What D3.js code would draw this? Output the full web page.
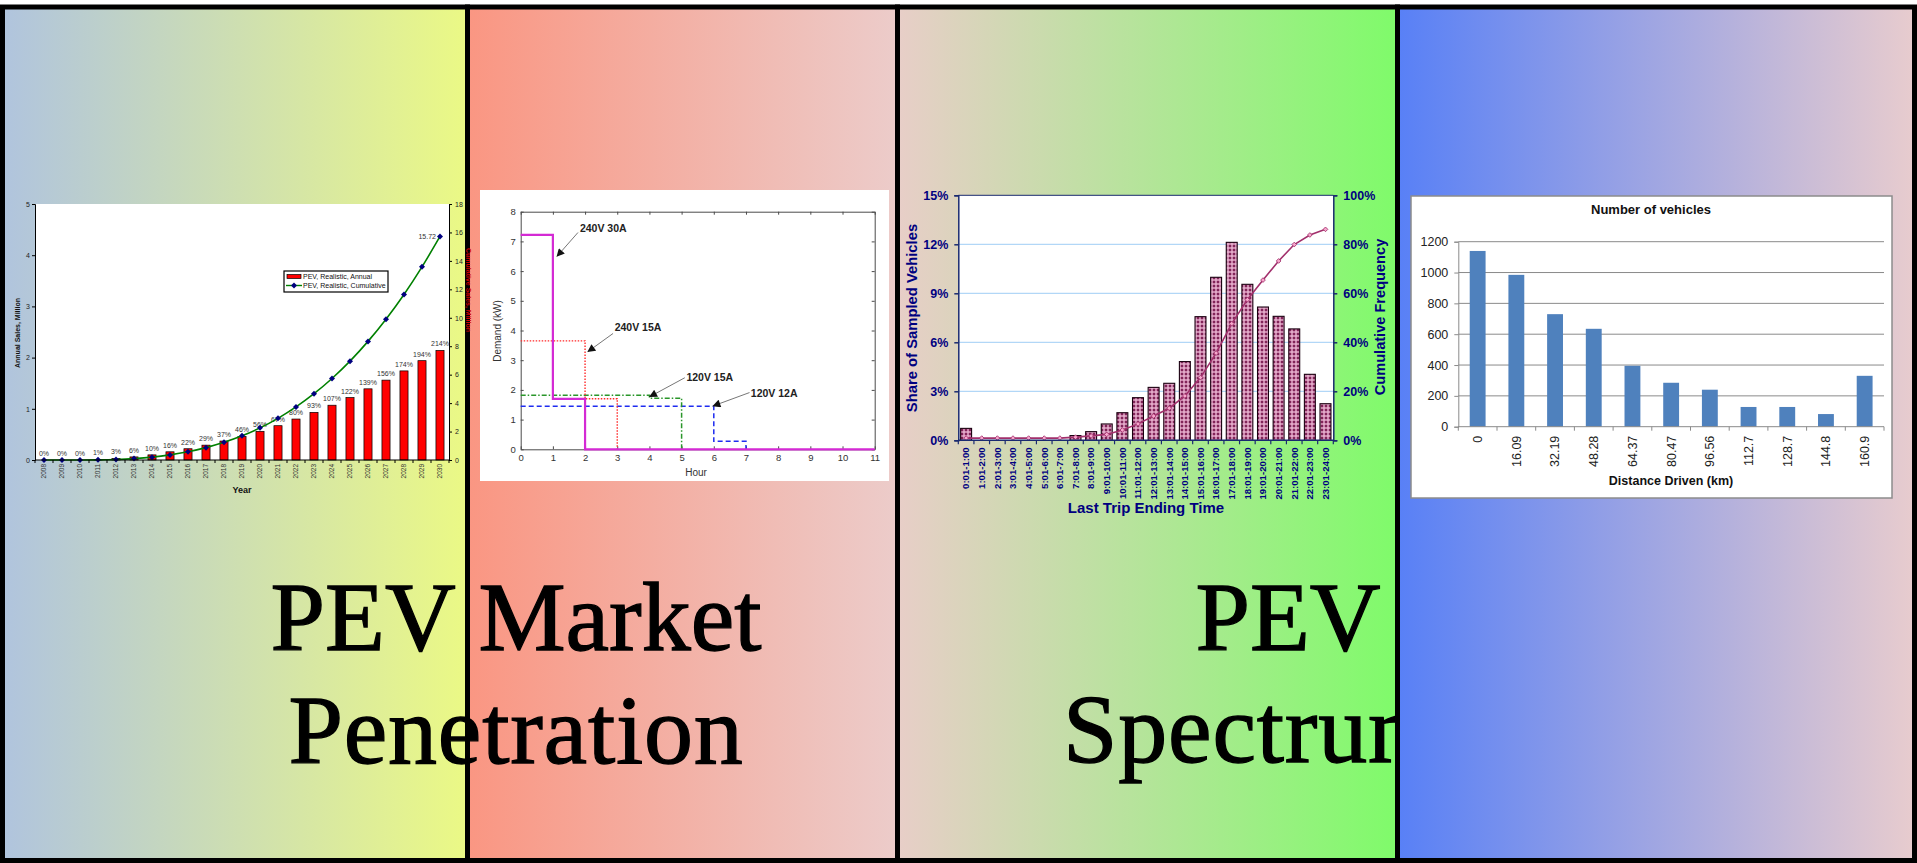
<!DOCTYPE html>
<html>
<head>
<meta charset="utf-8">
<script src="https://cdn.jsdelivr.net/npm/d3@7/dist/d3.min.js"></script>
<style>
html,body{margin:0;padding:0;background:#fff;overflow:hidden}
svg{display:block}
</style>
</head>
<body>
<svg id="board" width="1917" height="863"></svg>
<script>
// ---------- PEV sales outlook (millions) ----------
const salesYears = ["2008","2009","2010","2011","2012","2013","2014","2015","2016","2017","2018","2019",
                    "2020","2021","2022","2023","2024","2025","2026","2027","2028","2029","2030"];
const annualPct = [0,0,0,1,3,6,10,16,22,29,37,46,56,67,80,93,107,122,139,156,174,194,214];
const cumulativeMillions = [0,0,0,0.01,0.04,0.10,0.20,0.36,0.58,0.87,1.24,1.70,2.26,2.93,3.73,
                            4.66,5.73,6.95,8.34,9.90,11.64,13.58,15.72];
const annualTicks = [0,1,2,3,4,5];
const cumulativeTicks = [0,2,4,6,8,10,12,14,16,18];
const salesLegend = ["PEV, Realistic, Annual","PEV, Realistic, Cumulative"];

// ---------- charging demand profiles [hour, kW] ----------
const hourTicks = [0,1,2,3,4,5,6,7,8,9,10,11];
const demandTicks = [0,1,2,3,4,5,6,7,8];
const profile240V30A = [[0,7.22],[1,7.22],[1,1.7],[2,1.7],[2,0],[11,0]];
const profile240V15A = [[0,3.65],[2,3.65],[2,1.7],[3,1.7],[3,0]];
const profile120V15A = [[0,1.82],[4,1.82],[4,1.72],[5,1.72],[5,0]];
const profile120V12A = [[0,1.45],[6,1.45],[6,0.27],[7,0.27],[7,0]];
const profileLabels = ["240V 30A","240V 15A","120V 15A","120V 12A"];

// ---------- last trip ending time ----------
const tripTimes = ["0:01-1:00","1:01-2:00","2:01-3:00","3:01-4:00","4:01-5:00","5:01-6:00",
                   "6:01-7:00","7:01-8:00","8:01-9:00","9:01-10:00","10:01-11:00","11:01-12:00",
                   "12:01-13:00","13:01-14:00","14:01-15:00","15:01-16:00","16:01-17:00","17:01-18:00",
                   "18:01-19:00","19:01-20:00","20:01-21:00","21:01-22:00","22:01-23:00","23:01-24:00"];
const tripShare = [0.73,0,0,0,0,0,0,0.29,0.53,1.0,1.69,2.61,3.24,3.49,4.82,7.57,9.98,12.12,
                   9.55,8.16,7.59,6.82,4.04,2.24];
const tripCumulative = [0.9,0.9,0.9,0.9,0.9,0.9,0.9,1.3,1.8,2.4,4.2,6.7,9.9,13.1,18.1,25.6,
                        35.6,47.6,57.4,65.4,73.2,79.9,83.8,86.1];
const shareTicks = [0,3,6,9,12,15];
const cumShareTicks = [0,20,40,60,80,100];

// ---------- daily distance driven ----------
const distanceBins = ["0","16.09","32.19","48.28","64.37","80.47","96.56","112.7","128.7","144.8","160.9"];
const vehicleCounts = [1140,985,730,635,395,285,240,128,128,82,330];
const countTicks = [0,200,400,600,800,1000,1200];

const titleLines = [["PEV Market","Penetration"],["PEV","Spectrum"]];

// =====================================================================
const svg = d3.select("#board");
const defs = svg.append("defs");
const SANS = "'Liberation Sans', Arial, sans-serif";
const plain = d3.format("d");

function hGrad(id, c0, c1) {
  const g = defs.append("linearGradient").attr("id", id)
    .attr("x1", "0").attr("x2", "1").attr("y1", "0").attr("y2", "0");
  g.append("stop").attr("offset", "0").attr("stop-color", c0);
  g.append("stop").attr("offset", "1").attr("stop-color", c1);
}
hGrad("bg1", "#b0c4de", "#ebf985");
hGrad("bg2", "#fa9682", "#ecccca");
hGrad("bg3", "#e8cec8", "#7ffb6a");
hGrad("bg4", "#5880f6", "#e8ccce");

// dotted fill for the trip-time bars
const pat = defs.append("pattern").attr("id", "dotfill")
  .attr("width", 4).attr("height", 4).attr("patternUnits", "userSpaceOnUse");
pat.append("rect").attr("width", 4).attr("height", 4).attr("fill", "#e2a8c8");
pat.append("rect").attr("x", 1).attr("y", 1).attr("width", 2).attr("height", 2).attr("fill", "#822459");
pat.append("rect").attr("x", 0.5).attr("y", 1.5).attr("width", 3).attr("height", 1).attr("fill", "#822459");
pat.append("rect").attr("x", 1.5).attr("y", 0.5).attr("width", 1).attr("height", 3).attr("fill", "#822459");

// arrowhead for the demand annotations
defs.append("marker").attr("id", "arrowHead")
  .attr("viewBox", "0 0 10 10").attr("refX", 9).attr("refY", 5)
  .attr("markerWidth", 9).attr("markerHeight", 8).attr("markerUnits", "userSpaceOnUse")
  .attr("orient", "auto")
  .append("path").attr("d", "M0,0 L10,5 L0,10 Z").attr("fill", "#111");

function panel(x0, x1, fill) {
  svg.append("rect").attr("x", x0).attr("y", 7).attr("width", x1 - x0).attr("height", 853.5)
    .attr("fill", fill).attr("stroke", "#000").attr("stroke-width", 5);
}
panel(2.5, 467.5, "url(#bg1)");
panel(467.5, 897.5, "url(#bg2)");
panel(897.5, 1397.5, "url(#bg3)");

// =====================================================================
// Chart 1: annual and cumulative PEV sales
const c1 = {left: 35, right: 449, top: 204, bottom: 460};
const g1 = svg.append("g").attr("font-family", SANS);
const x1 = d3.scaleBand().domain(salesYears).range([c1.left, c1.right]).paddingInner(0.55).paddingOuter(0.275);
const yL1 = d3.scaleLinear().domain([0, 5]).range([c1.bottom, c1.top]);
const yR1 = d3.scaleLinear().domain([0, 18]).range([c1.bottom, c1.top]);
const bw1 = x1.bandwidth();

g1.append("rect").attr("x", c1.left).attr("y", c1.top)
  .attr("width", c1.right - c1.left).attr("height", c1.bottom - c1.top).attr("fill", "#fff");

g1.append("text").attr("transform", `translate(466,290) rotate(90)`)
  .attr("text-anchor", "middle").attr("font-size", 7).attr("font-weight", "bold")
  .attr("fill", "#d00000").text("Cumulative Sales, Million");

g1.selectAll("rect.bar").data(salesYears).join("rect").attr("class", "bar")
  .attr("x", d => x1(d))
  .attr("y", (d, i) => yL1(annualPct[i] / 100))
  .attr("width", bw1)
  .attr("height", (d, i) => c1.bottom - yL1(annualPct[i] / 100))
  .attr("fill", "#ff0000").attr("stroke", "#000").attr("stroke-width", 0.7);

g1.selectAll("text.pct").data(salesYears).join("text").attr("class", "pct")
  .attr("x", d => x1(d) + bw1 / 2)
  .attr("y", (d, i) => yL1(annualPct[i] / 100) - 4)
  .attr("text-anchor", "middle").attr("font-size", 7).attr("fill", "#333")
  .text((d, i) => annualPct[i] + "%");

const cumLine1 = d3.line()
  .x((d, i) => x1(salesYears[i]) + bw1 / 2)
  .y(d => yR1(d))
  .curve(d3.curveMonotoneX);
g1.append("path").attr("d", cumLine1(cumulativeMillions))
  .attr("fill", "none").attr("stroke", "#008000").attr("stroke-width", 1.6);
const diamond = d3.symbol(d3.symbolSquare, 18);
g1.selectAll("path.mk").data(cumulativeMillions).join("path").attr("class", "mk")
  .attr("d", diamond)
  .attr("transform", (d, i) => `translate(${x1(salesYears[i]) + bw1 / 2},${yR1(d)}) rotate(45)`)
  .attr("fill", "#00007f");
g1.append("text")
  .attr("x", x1(salesYears[salesYears.length - 1]) + bw1 / 2 - 4)
  .attr("y", yR1(cumulativeMillions[cumulativeMillions.length - 1]) + 2.5)
  .attr("text-anchor", "end").attr("font-size", 7).attr("fill", "#333")
  .text(cumulativeMillions[cumulativeMillions.length - 1].toFixed(2));

const axL1 = g1.append("g").attr("transform", `translate(${c1.left},0)`)
  .call(d3.axisLeft(yL1).tickValues(annualTicks).tickFormat(plain).tickSize(3).tickPadding(2));
const axR1 = g1.append("g").attr("transform", `translate(${c1.right},0)`)
  .call(d3.axisRight(yR1).tickValues(cumulativeTicks).tickFormat(plain).tickSize(3).tickPadding(3));
[axL1, axR1].forEach(a => {
  a.selectAll("text").attr("font-size", 7).attr("fill", "#222").attr("font-family", SANS);
  a.selectAll("line,path").attr("stroke", "#000");
});
// category axis with ticks between the years
g1.append("line").attr("x1", c1.left).attr("x2", c1.right).attr("y1", c1.bottom).attr("y2", c1.bottom)
  .attr("stroke", "#000");
g1.selectAll("line.xt").data(d3.range(salesYears.length + 1)).join("line").attr("class", "xt")
  .attr("x1", i => x1.range()[0] + i * x1.step()).attr("x2", i => x1.range()[0] + i * x1.step())
  .attr("y1", c1.bottom).attr("y2", c1.bottom + 3).attr("stroke", "#000");
g1.selectAll("text.yr").data(salesYears).join("text").attr("class", "yr")
  .attr("transform", d => `translate(${x1(d) + bw1 / 2},${c1.bottom + 4}) rotate(-90)`)
  .attr("text-anchor", "end").attr("dy", "0.35em").attr("font-size", 6.5).attr("fill", "#333")
  .text(d => d);
g1.append("text").attr("x", 242).attr("y", 493).attr("text-anchor", "middle")
  .attr("font-size", 9).attr("font-weight", "bold").attr("fill", "#111").text("Year");
g1.append("text").attr("transform", "translate(20,333) rotate(-90)")
  .attr("text-anchor", "middle").attr("font-size", 7).attr("font-weight", "bold").attr("fill", "#111")
  .text("Annual Sales, Million");

// legend
const lg1 = g1.append("g");
lg1.append("rect").attr("x", 284).attr("y", 271).attr("width", 104).attr("height", 21)
  .attr("fill", "#fff").attr("stroke", "#000").attr("stroke-width", 1.2);
lg1.append("rect").attr("x", 287).attr("y", 274.5).attr("width", 14).attr("height", 4)
  .attr("fill", "#ff0000").attr("stroke", "#000").attr("stroke-width", 0.7);
lg1.append("line").attr("x1", 286).attr("x2", 302).attr("y1", 285.5).attr("y2", 285.5)
  .attr("stroke", "#008000").attr("stroke-width", 1.4);
lg1.append("path").attr("d", diamond).attr("transform", "translate(294,285.5) rotate(45)").attr("fill", "#00007f");
lg1.selectAll("text").data(salesLegend).join("text")
  .attr("x", 303).attr("y", (d, i) => 279 + i * 9)
  .attr("font-size", 7).attr("fill", "#111").text(d => d);

// =====================================================================
// Chart 2: charging demand by hour
const g2 = svg.append("g").attr("font-family", SANS);
g2.append("rect").attr("x", 480).attr("y", 190).attr("width", 409).attr("height", 291).attr("fill", "#fff");
const c2 = {left: 520.7, right: 874.7, top: 211.7, bottom: 449.3};
const x2 = d3.scaleLinear().domain([0, 11]).range([c2.left, c2.right]);
const y2 = d3.scaleLinear().domain([0, 8]).range([c2.bottom, c2.top]);

const axes2 = [
  g2.append("g").attr("transform", `translate(0,${c2.bottom})`)
    .call(d3.axisBottom(x2).tickValues(hourTicks).tickSizeInner(-3).tickSizeOuter(0).tickPadding(5)),
  g2.append("g").attr("transform", `translate(0,${c2.top})`)
    .call(d3.axisTop(x2).tickValues(hourTicks).tickSizeInner(-3).tickSizeOuter(0).tickFormat("")),
  g2.append("g").attr("transform", `translate(${c2.left},0)`)
    .call(d3.axisLeft(y2).tickValues(demandTicks).tickSizeInner(-3).tickSizeOuter(0).tickPadding(5)),
  g2.append("g").attr("transform", `translate(${c2.right},0)`)
    .call(d3.axisRight(y2).tickValues(demandTicks).tickSizeInner(-3).tickSizeOuter(0).tickFormat(""))
];
axes2.forEach(a => {
  a.selectAll("line,path").attr("stroke", "#4a4a4a");
  a.selectAll("text").attr("font-size", 9.5).attr("fill", "#333").attr("font-family", SANS);
});
g2.append("text").attr("x", 696).attr("y", 476).attr("text-anchor", "middle")
  .attr("font-size", 10).attr("fill", "#333").text("Hour");
g2.append("text").attr("transform", "translate(501,331) rotate(-90)").attr("text-anchor", "middle")
  .attr("font-size", 10).attr("fill", "#333").text("Demand (kW)");

const line2 = d3.line().x(d => x2(d[0])).y(d => y2(d[1]));
g2.append("path").attr("d", line2(profile120V12A)).attr("fill", "none")
  .attr("stroke", "#1f2cf0").attr("stroke-width", 1.5).attr("stroke-dasharray", "5,3");
g2.append("path").attr("d", line2(profile120V15A)).attr("fill", "none")
  .attr("stroke", "#2a962a").attr("stroke-width", 1.5).attr("stroke-dasharray", "5,2,1.5,2");
g2.append("path").attr("d", line2(profile240V15A)).attr("fill", "none")
  .attr("stroke", "#ff2a2a").attr("stroke-width", 1.4).attr("stroke-dasharray", "1.5,1.5");
g2.append("path").attr("d", line2(profile240V30A)).attr("fill", "none")
  .attr("stroke", "#d42ad4").attr("stroke-width", 2.2);

// annotation placement in data units: text anchor, arrow start, arrow tip
const profileNotes = [
  {tx: 1.84, ty: 7.33, sx: 1.78, sy: 7.30, ex: 1.13, ey: 6.50},
  {tx: 2.92, ty: 3.99, sx: 2.87, sy: 3.90, ex: 2.09, ey: 3.29},
  {tx: 5.15, ty: 2.30, sx: 5.10, sy: 2.41, ex: 4.01, ey: 1.77},
  {tx: 7.15, ty: 1.75, sx: 7.11, sy: 1.91, ex: 5.98, ey: 1.46}
];
profileNotes.forEach((n, i) => {
  g2.append("line").attr("x1", x2(n.sx)).attr("y1", y2(n.sy)).attr("x2", x2(n.ex)).attr("y2", y2(n.ey))
    .attr("stroke", "#777").attr("stroke-width", 1).attr("marker-end", "url(#arrowHead)");
  g2.append("text").attr("x", x2(n.tx)).attr("y", y2(n.ty))
    .attr("font-size", 10.5).attr("font-weight", "bold").attr("fill", "#222").text(profileLabels[i]);
});

// =====================================================================
// Chart 3: last trip ending time
const g3 = svg.append("g").attr("font-family", SANS);
const c3 = {left: 958.3, right: 1333.3, top: 195.3, bottom: 440.3};
const NAVY = "#000080";
const x3 = d3.scaleBand().domain(tripTimes).range([c3.left, c3.right]).paddingInner(0.3).paddingOuter(0.15);
const yL3 = d3.scaleLinear().domain([0, 15]).range([c3.bottom, c3.top]);
const yR3 = d3.scaleLinear().domain([0, 100]).range([c3.bottom, c3.top]);
const bw3 = x3.bandwidth();

g3.append("rect").attr("x", c3.left).attr("y", c3.top)
  .attr("width", c3.right - c3.left).attr("height", c3.bottom - c3.top).attr("fill", "#fff");
g3.selectAll("line.grid").data(shareTicks.slice(1, -1)).join("line").attr("class", "grid")
  .attr("x1", c3.left).attr("x2", c3.right).attr("y1", d => yL3(d)).attr("y2", d => yL3(d))
  .attr("stroke", "#9fcdf6").attr("stroke-width", 1);
g3.append("line").attr("x1", c3.left).attr("x2", c3.right).attr("y1", c3.top).attr("y2", c3.top)
  .attr("stroke", "#1a2a70").attr("stroke-width", 1);

g3.selectAll("rect.bar").data(tripTimes.filter((d, i) => tripShare[i] > 0)).join("rect").attr("class", "bar")
  .attr("x", d => x3(d))
  .attr("y", d => yL3(tripShare[tripTimes.indexOf(d)]))
  .attr("width", bw3)
  .attr("height", d => c3.bottom - yL3(tripShare[tripTimes.indexOf(d)]))
  .attr("fill", "url(#dotfill)").attr("stroke", "#1a0010").attr("stroke-width", 1.1);

const cumLine3 = d3.line().x((d, i) => x3(tripTimes[i]) + bw3 / 2).y(d => yR3(d));
g3.append("path").attr("d", cumLine3(tripCumulative)).attr("fill", "none")
  .attr("stroke", "#a2306c").attr("stroke-width", 1.6);
g3.selectAll("path.mk").data(tripCumulative).join("path").attr("class", "mk")
  .attr("d", d3.symbol(d3.symbolSquare, 11))
  .attr("transform", (d, i) => `translate(${x3(tripTimes[i]) + bw3 / 2},${yR3(d)}) rotate(45)`)
  .attr("fill", "#f6a6cc").attr("stroke", "#a2306c").attr("stroke-width", 0.8);

const axL3 = g3.append("g").attr("transform", `translate(${c3.left},0)`)
  .call(d3.axisLeft(yL3).tickValues(shareTicks).tickSize(4).tickPadding(6).tickFormat(d => d + "%"));
const axR3 = g3.append("g").attr("transform", `translate(${c3.right},0)`)
  .call(d3.axisRight(yR3).tickValues(cumShareTicks).tickSize(4).tickPadding(6).tickFormat(d => d + "%"));
[axL3, axR3].forEach(a => {
  a.selectAll("path,line").attr("stroke", "#1a2a70").attr("stroke-width", 1.5);
  a.selectAll("text").attr("font-size", 12.5).attr("font-weight", "bold").attr("fill", NAVY)
    .attr("font-family", SANS);
});
g3.append("line").attr("x1", c3.left).attr("x2", c3.right).attr("y1", c3.bottom).attr("y2", c3.bottom)
  .attr("stroke", "#1a2a70").attr("stroke-width", 1.5);
g3.selectAll("line.xt").data(d3.range(tripTimes.length + 1)).join("line").attr("class", "xt")
  .attr("x1", i => x3.range()[0] + i * x3.step()).attr("x2", i => x3.range()[0] + i * x3.step())
  .attr("y1", c3.bottom).attr("y2", c3.bottom + 4).attr("stroke", "#1a2a70").attr("stroke-width", 1.2);
g3.selectAll("text.cat").data(tripTimes).join("text").attr("class", "cat")
  .attr("transform", d => `translate(${x3(d) + bw3 / 2},${c3.bottom + 7}) rotate(-90)`)
  .attr("text-anchor", "end").attr("dy", "0.35em")
  .attr("font-size", 9.6).attr("font-weight", "bold").attr("fill", NAVY).text(d => d);
g3.append("text").attr("x", 1146).attr("y", 513).attr("text-anchor", "middle")
  .attr("font-size", 15).attr("font-weight", "bold").attr("fill", NAVY).text("Last Trip Ending Time");
g3.append("text").attr("transform", "translate(917,318) rotate(-90)").attr("text-anchor", "middle")
  .attr("font-size", 14.8).attr("font-weight", "bold").attr("fill", NAVY).text("Share of Sampled Vehicles");
g3.append("text").attr("transform", "translate(1385,317) rotate(-90)").attr("text-anchor", "middle")
  .attr("font-size", 14.6).attr("font-weight", "bold").attr("fill", NAVY).text("Cumulative Frequency");

// =====================================================================
// Heading words
const heads = svg.append("g").attr("font-family", "'Liberation Serif', 'Times New Roman', serif")
  .attr("font-size", 98).attr("fill", "#000").attr("stroke", "#000").attr("stroke-width", 1.3);
heads.append("text").attr("x", 516).attr("y", 650).attr("text-anchor", "middle").text(titleLines[0][0]);
heads.append("text").attr("x", 516).attr("y", 763).attr("text-anchor", "middle")
  .attr("letter-spacing", 0.8).text(titleLines[0][1]);
heads.append("text").attr("x", 1288).attr("y", 650).attr("text-anchor", "middle").text(titleLines[1][0]);
heads.append("text").attr("x", 1063).attr("y", 762).attr("text-anchor", "start")
  .attr("letter-spacing", 0.8).text(titleLines[1][1]);

// =====================================================================
// Chart 4: daily distance driven
panel(1397.5, 1914.5, "url(#bg4)");
const g4 = svg.append("g").attr("font-family", SANS);
g4.append("rect").attr("x", 1411).attr("y", 196).attr("width", 481).attr("height", 302)
  .attr("fill", "#fff").attr("stroke", "#8c8c8c").attr("stroke-width", 1.5);
const c4 = {left: 1458.3, right: 1884, top: 241.7, bottom: 426.7};
const x4 = d3.scaleBand().domain(distanceBins).range([c4.left, c4.right]).paddingInner(0.59).paddingOuter(0.295);
const y4 = d3.scaleLinear().domain([0, 1200]).range([c4.bottom, c4.top]);
const GRID4 = "#8a8a8a";

g4.selectAll("line.grid").data(countTicks.slice(1)).join("line").attr("class", "grid")
  .attr("x1", c4.left).attr("x2", c4.right).attr("y1", d => y4(d)).attr("y2", d => y4(d))
  .attr("stroke", GRID4).attr("stroke-width", 1);
g4.selectAll("rect.bar").data(distanceBins).join("rect").attr("class", "bar")
  .attr("x", d => x4(d)).attr("width", x4.bandwidth())
  .attr("y", (d, i) => y4(vehicleCounts[i]))
  .attr("height", (d, i) => c4.bottom - y4(vehicleCounts[i]))
  .attr("fill", "#4f81bd");
const axL4 = g4.append("g").attr("transform", `translate(${c4.left},0)`)
  .call(d3.axisLeft(y4).tickValues(countTicks).tickFormat(plain).tickSize(4).tickPadding(6));
axL4.selectAll("path,line").attr("stroke", GRID4);
axL4.selectAll("text").attr("font-size", 12.5).attr("fill", "#222").attr("font-family", SANS);
g4.append("line").attr("x1", c4.left).attr("x2", c4.right).attr("y1", c4.bottom).attr("y2", c4.bottom)
  .attr("stroke", GRID4);
g4.selectAll("line.xt").data(d3.range(distanceBins.length + 1)).join("line").attr("class", "xt")
  .attr("x1", i => x4.range()[0] + i * x4.step()).attr("x2", i => x4.range()[0] + i * x4.step())
  .attr("y1", c4.bottom).attr("y2", c4.bottom + 4).attr("stroke", GRID4);
g4.selectAll("text.cat").data(distanceBins).join("text").attr("class", "cat")
  .attr("transform", d => `translate(${x4(d) + x4.bandwidth() / 2},${c4.bottom + 9}) rotate(-90)`)
  .attr("text-anchor", "end").attr("dy", "0.35em")
  .attr("font-size", 12.5).attr("fill", "#222").text(d => d);
g4.append("text").attr("x", 1651).attr("y", 214).attr("text-anchor", "middle")
  .attr("font-size", 13).attr("font-weight", "bold").attr("fill", "#111").text("Number of vehicles");
g4.append("text").attr("x", 1671).attr("y", 485).attr("text-anchor", "middle")
  .attr("font-size", 12.5).attr("font-weight", "bold").attr("fill", "#111").text("Distance Driven (km)");
</script>
</body>
</html>
